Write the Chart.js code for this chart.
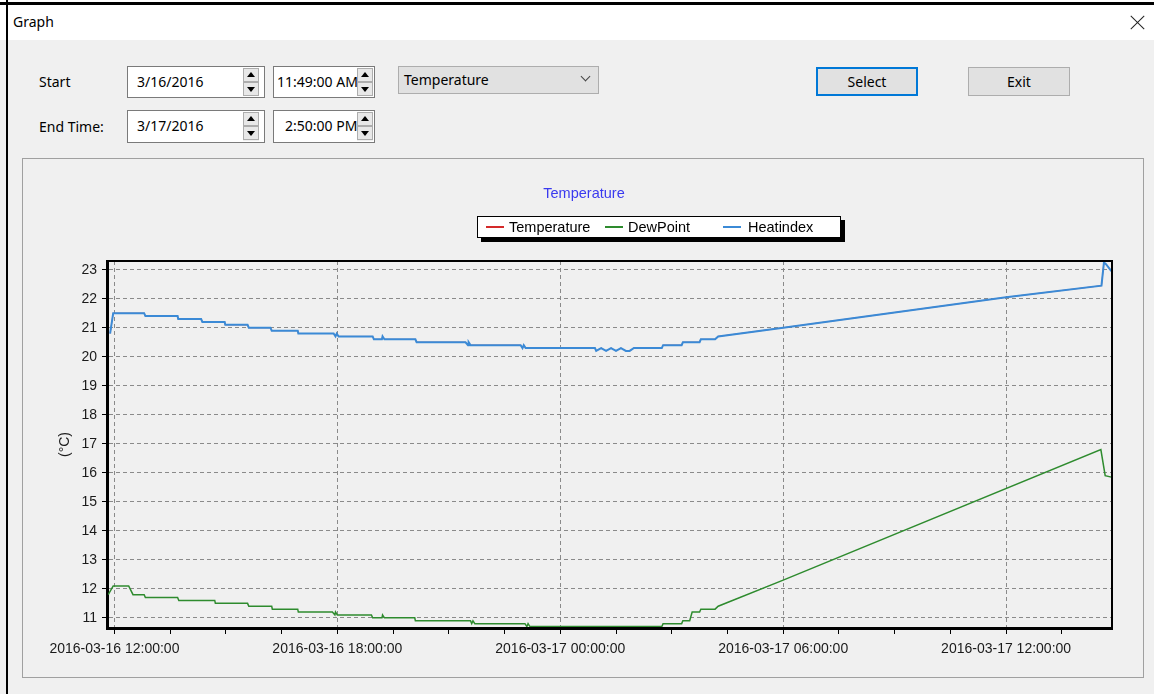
<!DOCTYPE html>
<html>
<head>
<meta charset="utf-8">
<script src="https://cdn.jsdelivr.net/npm/chart.js@4.4.1/dist/chart.umd.min.js"></script>
<style>
    body {
        margin: 0;
        width: 1154px;
        height: 694px;
        background: #f0f0f0;
        position: relative;
        overflow: hidden;
        font-family: "Noto Sans", sans-serif;
        font-size: 14px;
        color: #000;
    }
    .abs { position: absolute; }
    #titlebar { left: 0; top: 0; width: 1154px; height: 40px; background: #fff; }
    #topline { left: 0; top: 2px; width: 1154px; height: 3px; background: #000; }
    #leftline { left: 6px; top: 0; width: 2px; height: 694px; background: #000; }
    #caption { left: 13px; top: 11px; line-height: 22px; }
    #close { left: 1130px; top: 15px; width: 15px; height: 15px; }
    #close::before, #close::after {
        content: '';
        position: absolute;
        left: 7px;
        top: -2px;
        width: 1px;
        height: 19px;
        background: #222;
    }
    #close::before { transform: rotate(45deg); }
    #close::after { transform: rotate(-45deg); }

    .lbl { line-height: 20px; }
    .field {
        background: #fff;
        border: 1px solid #7a7a7a;
        box-sizing: border-box;
        overflow: hidden;
        white-space: nowrap;
    }
    .field span { position: absolute; left: 9px; top: 0; line-height: 30px; }
    .spin { position: absolute; width: 16px; background: #f0f0f0; }
    .spin div {
        position: absolute;
        left: 0;
        width: 14px;
        height: 12px;
        border: 1px solid #adadad;
        background: #e8e8e8;
    }
    .spin div::after {
        content: '';
        position: absolute;
        left: 3px;
        width: 0;
        height: 0;
        border-left: 4px solid transparent;
        border-right: 4px solid transparent;
    }
    .spin .up::after { top: 3px; border-bottom: 5px solid #000; }
    .spin .dn::after { top: 4px; border-top: 5px solid #000; }

    #combo {
        left: 398px; top: 66px; width: 201px; height: 28px;
        background: #e1e1e1; border: 1px solid #adadad; box-sizing: border-box;
    }
    #combo span { position: absolute; left: 5px; top: 0; line-height: 26px; }
    #chev {
        position: absolute; left: 183px; top: 6px; width: 6px; height: 6px;
        border-right: 1px solid #444; border-bottom: 1px solid #444;
        transform: rotate(45deg);
    }
    .btn {
        background: #e1e1e1; box-sizing: border-box; text-align: center;
    }
    #select { left: 816px; top: 67px; width: 102px; height: 29px; border: 2px solid #0078d7; line-height: 25px; }
    #exit { left: 968px; top: 67px; width: 102px; height: 29px; border: 1px solid #adadad; line-height: 27px; }

    #panel {
        left: 22px; top: 158px; width: 1122px; height: 520px;
        border: 1px solid #a0a0a0; box-sizing: border-box;
    }
    #myChart { position: absolute; left: 23px; top: 159px; }

    #chartTitle {
        left: 484px; top: 183px; width: 200px; text-align: center;
        font-family: "Liberation Sans", Arial, sans-serif; font-size: 14.5px;
        color: #3a3aef; line-height: 20px;
    }
    #legend {
        left: 477px; top: 216px; width: 364px; height: 22px;
        background: #fff; border: 1px solid #000; box-sizing: border-box;
        box-shadow: 4px 4px 0 #000;
        font-family: "Liberation Sans", Arial, sans-serif; font-size: 14.5px;
    }
    .key { position: absolute; top: 9px; width: 18px; height: 0; border-top: 2px solid; }
    .ktext { position: absolute; top: 0; line-height: 20px; }
</style>
</head>
<body>

<div id="titlebar" class="abs"></div>
<div id="topline" class="abs"></div>
<div id="leftline" class="abs"></div>
<div id="caption" class="abs">Graph</div>
<div id="close" class="abs"></div>

<div class="abs lbl" style="left:39px; top:72px;">Start</div>
<div class="abs lbl" style="left:39px; top:117px;">End Time:</div>

<div class="abs field" style="left:127px; top:66px; width:138px; height:32px;">
    <span>3/16/2016</span>
    <div class="spin" style="left:115px; top:1px; height:28px;"><div class="up" style="top:0"></div><div class="dn" style="top:14px"></div></div>
</div>
<div class="abs field" style="left:273px; top:66px; width:102px; height:32px;">
    <span style="left:3px">11:49:00 AM</span>
    <div class="spin" style="left:83px; top:1px; height:28px;"><div class="up" style="top:0"></div><div class="dn" style="top:14px"></div></div>
</div>
<div class="abs field" style="left:127px; top:110px; width:138px; height:33px;">
    <span>3/17/2016</span>
    <div class="spin" style="left:115px; top:1px; height:29px;"><div class="up" style="top:0"></div><div class="dn" style="top:14px"></div></div>
</div>
<div class="abs field" style="left:273px; top:110px; width:102px; height:33px;">
    <span style="left:11px">2:50:00 PM</span>
    <div class="spin" style="left:83px; top:1px; height:29px;"><div class="up" style="top:0"></div><div class="dn" style="top:14px"></div></div>
</div>

<div id="combo" class="abs"><span>Temperature</span><div id="chev"></div></div>
<div id="select" class="abs btn">Select</div>
<div id="exit" class="abs btn">Exit</div>

<div id="panel" class="abs"></div>
<canvas id="myChart" width="1120" height="518"></canvas>

<div id="chartTitle" class="abs">Temperature</div>
<div id="legend" class="abs">
    <div class="key" style="left:8px; border-color:#d42a2a;"></div>
    <div class="ktext" style="left:31px;">Temperature</div>
    <div class="key" style="left:127px; border-color:#2e8b2e;"></div>
    <div class="ktext" style="left:150px;">DewPoint</div>
    <div class="key" style="left:245px; border-color:#3b8ad6;"></div>
    <div class="ktext" style="left:270px;">Heatindex</div>
</div>

<script>
// ============================================
// DATA
// ============================================

// heat index samples, "MM-DD HH:MM"
const heatTimes = [
    '03-16 11:53', '03-16 11:58', '03-16 12:48', '03-16 12:50', '03-16 13:42', '03-16 13:43',
    '03-16 14:20', '03-16 14:22', '03-16 14:58', '03-16 14:59', '03-16 15:35', '03-16 15:37',
    '03-16 16:12', '03-16 16:14', '03-16 16:56', '03-16 16:57', '03-16 17:54', '03-16 17:57',
    '03-16 17:59', '03-16 18:02', '03-16 18:57', '03-16 18:59', '03-16 19:12', '03-16 19:13',
    '03-16 19:16', '03-16 20:06', '03-16 20:08', '03-16 21:27', '03-16 21:31', '03-16 21:32',
    '03-16 21:35', '03-16 22:56', '03-16 22:59', '03-16 23:01', '03-16 23:04', '03-17 00:56',
    '03-17 00:58', '03-17 01:06', '03-17 01:14', '03-17 01:22', '03-17 01:30', '03-17 01:38',
    '03-17 01:46', '03-17 01:52', '03-17 01:59', '03-17 02:44', '03-17 02:46', '03-17 03:16',
    '03-17 03:18', '03-17 03:45', '03-17 03:47', '03-17 04:10', '03-17 04:15', '03-17 06:00',
    '03-17 12:00', '03-17 14:34', '03-17 14:38', '03-17 14:41', '03-17 14:50'
];
const heatValues = [
    20.8, 21.5, 21.5, 21.4, 21.4, 21.3,
    21.3, 21.2, 21.2, 21.1, 21.1, 21.0,
    21.0, 20.9, 20.9, 20.8, 20.8, 20.7,
    20.8, 20.7, 20.7, 20.6, 20.6, 20.7,
    20.6, 20.6, 20.5, 20.5, 20.4, 20.5,
    20.4, 20.4, 20.3, 20.4, 20.3, 20.3,
    20.2, 20.3, 20.2, 20.3, 20.2, 20.3,
    20.2, 20.2, 20.3, 20.3, 20.4, 20.4,
    20.5, 20.5, 20.6, 20.6, 20.7, 21.0,
    22.05, 22.45, 23.25, 23.2, 22.95
];

// the temperature line lies exactly under the heat index line
const tempTimes = heatTimes;
const tempValues = heatValues;

const dewTimes = [
    '03-16 11:50', '03-16 11:58', '03-16 12:23', '03-16 12:30', '03-16 12:48', '03-16 12:50',
    '03-16 13:42', '03-16 13:44', '03-16 14:42', '03-16 14:43', '03-16 15:35', '03-16 15:37',
    '03-16 16:14', '03-16 16:15', '03-16 16:56', '03-16 16:57', '03-16 17:52', '03-16 17:56',
    '03-16 17:57', '03-16 18:00', '03-16 18:55', '03-16 18:57', '03-16 19:12', '03-16 19:13',
    '03-16 19:16', '03-16 20:05', '03-16 20:06', '03-16 21:35', '03-16 21:37', '03-16 21:39',
    '03-16 21:42', '03-16 23:03', '03-16 23:06', '03-16 23:08', '03-16 23:11', '03-17 02:44',
    '03-17 02:46', '03-17 03:16', '03-17 03:18', '03-17 03:29', '03-17 03:33', '03-17 03:45',
    '03-17 03:47', '03-17 04:10', '03-17 04:15', '03-17 06:00', '03-17 14:33', '03-17 14:40',
    '03-17 14:50'
];
const dewValues = [
    11.8, 12.1, 12.1, 11.8, 11.8, 11.7,
    11.7, 11.6, 11.6, 11.5, 11.5, 11.4,
    11.4, 11.3, 11.3, 11.2, 11.2, 11.1,
    11.2, 11.1, 11.1, 11.0, 11.0, 11.1,
    11.0, 11.0, 10.9, 10.9, 10.8, 10.9,
    10.8, 10.8, 10.7, 10.8, 10.7, 10.7,
    10.8, 10.8, 10.9, 10.9, 11.2, 11.2,
    11.3, 11.3, 11.4, 12.3, 16.8, 15.9,
    15.85
];

const yTickValues = [11, 12, 13, 14, 15, 16, 17, 18, 19, 20, 21, 22, 23];

// ============================================
// HELPERS
// ============================================

// minutes since 2016-03-16 00:00
function toMinutes(s) {
    const day = parseInt(s.slice(3, 5), 10) - 16;
    const h = parseInt(s.slice(6, 8), 10);
    const m = parseInt(s.slice(9, 11), 10);
    return day * 1440 + h * 60 + m;
}

function toPoints(times, values) {
    return times.map((t, i) => ({ x: toMinutes(t), y: values[i] }));
}

function pad(n) {
    return String(n).padStart(2, '0');
}

const xMin = toMinutes('03-16 11:48');
const xMax = toMinutes('03-17 14:51');

const xTickValues = [];
for (let v = 720; v <= xMax; v += 90) xTickValues.push(v);

// ============================================
// CREATE CHART
// ============================================

const ctx = document.getElementById('myChart');

const framePlugin = {
    id: 'frame',
    afterDraw(chart) {
        const a = chart.chartArea;
        const c = chart.ctx;
        c.save();
        c.strokeStyle = '#000';
        c.lineWidth = 2;
        c.strokeRect(a.left, a.top, a.right - a.left, a.bottom - a.top);
        c.restore();
    }
};

new Chart(ctx, {

    type: 'line',

    data: {
        datasets: [
            {
                label: 'Temperature',
                data: toPoints(tempTimes, tempValues),
                borderColor: '#d42a2a',
                borderWidth: 0.8,
                pointRadius: 0,
                tension: 0,
                order: 3
            },
            {
                label: 'DewPoint',
                data: toPoints(dewTimes, dewValues),
                borderColor: '#2e8b2e',
                borderWidth: 1.5,
                pointRadius: 0,
                tension: 0,
                order: 2
            },
            {
                label: 'Heatindex',
                data: toPoints(heatTimes, heatValues),
                borderColor: '#3b8ad6',
                borderWidth: 2,
                pointRadius: 0,
                tension: 0,
                order: 1
            }
        ]
    },

    options: {
        responsive: false,
        animation: false,
        layout: {
            padding: { left: 30, right: 31, top: 102, bottom: 0 }
        },
        plugins: {
            legend: { display: false },
            title: { display: false },
            tooltip: { enabled: false }
        },
        scales: {
            x: {
                type: 'linear',
                min: xMin,
                max: xMax,
                afterBuildTicks: (scale) => {
                    scale.ticks = xTickValues.map(v => ({ value: v }));
                },
                afterFit: (scale) => {
                    scale.height = 49;
                },
                ticks: {
                    autoSkip: false,
                    maxRotation: 0,
                    padding: 7,
                    color: '#1a1a1a',
                    font: { family: 'Liberation Sans', size: 14 },
                    callback: (value) => {
                        if ((value - 720) % 360 !== 0) return '';
                        const day = 16 + Math.floor(value / 1440);
                        const h = Math.floor((value % 1440) / 60);
                        return '2016-03-' + day + ' ' + pad(h) + ':00:00';
                    }
                },
                grid: {
                    color: (c) => (c.tick && (c.tick.value - 720) % 360 === 0) ? '#8a8a8a' : 'rgba(0,0,0,0)',
                    tickColor: '#000',
                    tickLength: 6,
                    lineWidth: 1
                },
                border: {
                    color: '#000',
                    width: 3,
                    dash: [4, 3]
                }
            },
            y: {
                min: 10.65,
                max: 23.3,
                afterBuildTicks: (scale) => {
                    scale.ticks = yTickValues.map(v => ({ value: v }));
                },
                afterFit: (scale) => {
                    scale.width = 54;
                },
                title: {
                    display: true,
                    text: '(°C)',
                    color: '#1a1a1a',
                    font: { family: 'Liberation Sans', size: 14 }
                },
                ticks: {
                    padding: 5,
                    color: '#1a1a1a',
                    font: { family: 'Liberation Sans', size: 14 }
                },
                grid: {
                    color: '#8a8a8a',
                    tickColor: '#000',
                    tickLength: 5,
                    lineWidth: 1
                },
                border: {
                    color: '#000',
                    width: 3,
                    dash: [4, 3]
                }
            }
        }
    },

    plugins: [framePlugin]
});
</script>
</body>
</html>
